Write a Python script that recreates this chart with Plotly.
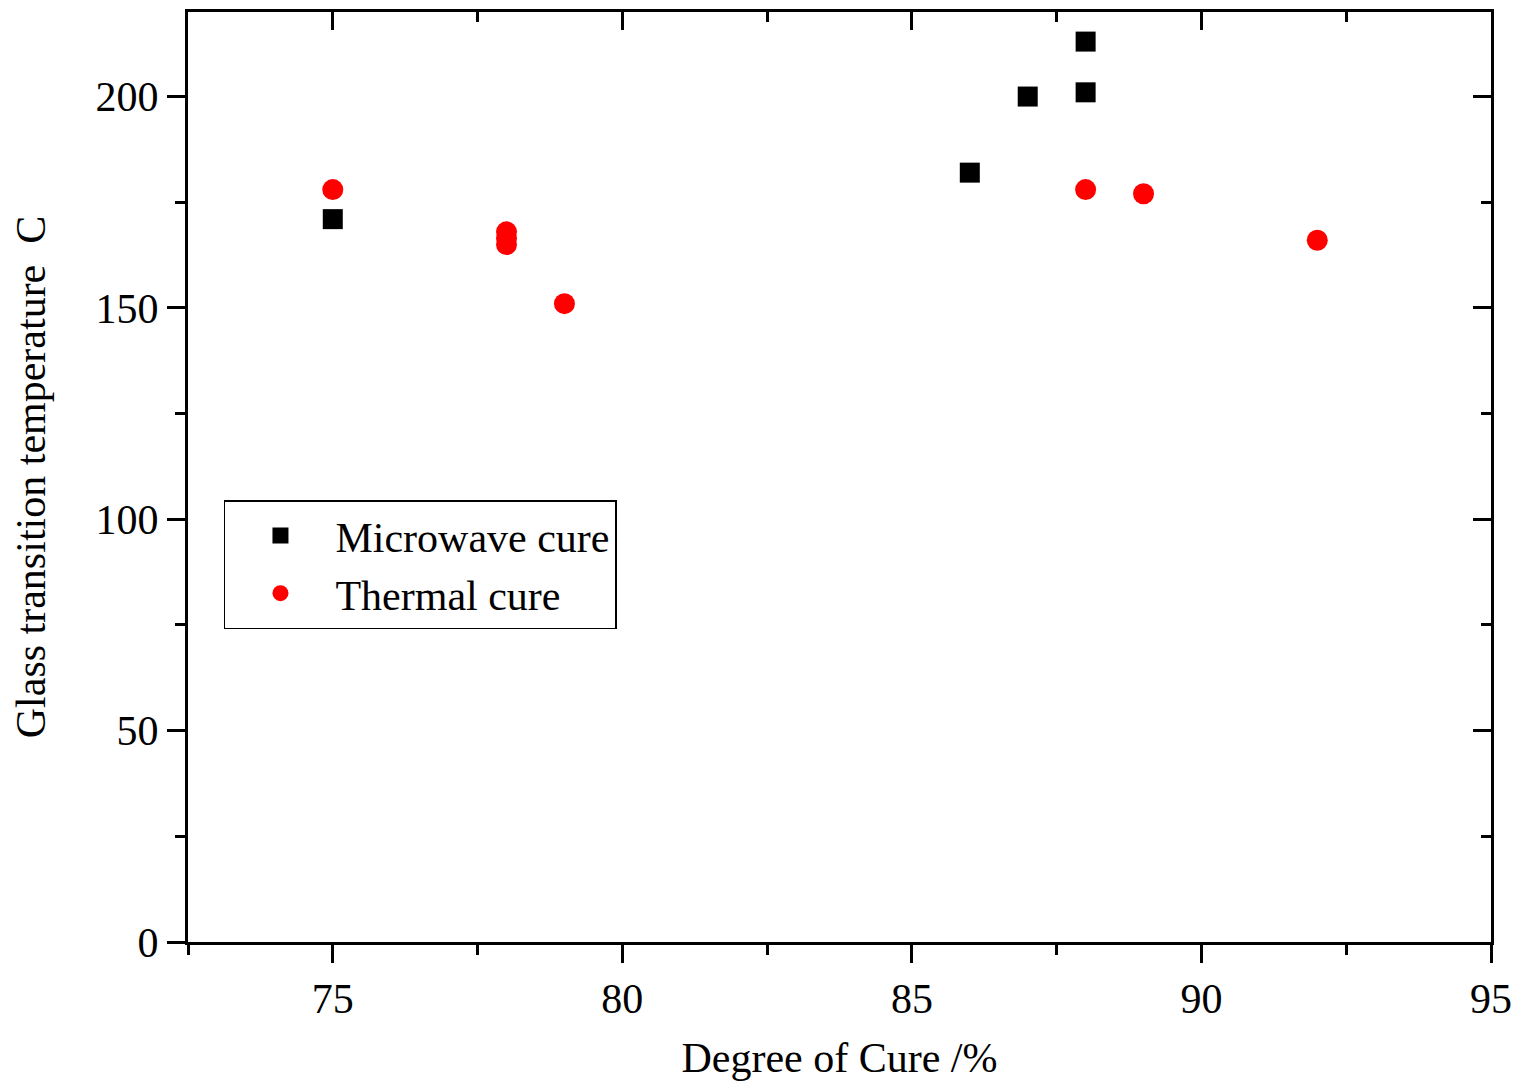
import plotly.graph_objects as go

micro_x = [75, 86, 87, 88, 88]
micro_y = [171, 182, 200, 213, 201]
therm_x = [75, 78, 78, 78, 79, 88, 89, 92]
therm_y = [178, 168, 166.5, 165, 151, 178, 177, 166]

x_ticks = [75, 80, 85, 90, 95]
x_minor = [72.5, 77.5, 82.5, 87.5, 92.5]
y_ticks = [0, 50, 100, 150, 200]
y_minor = [25, 75, 125, 175]

FONT = "Liberation Serif"
FS = 42

fig = go.Figure()
fig.add_trace(go.Scatter(x=micro_x, y=micro_y, mode="markers", name="Microwave cure",
                         marker=dict(symbol="square", size=20, color="black")))
fig.add_trace(go.Scatter(x=therm_x, y=therm_y, mode="markers", name="Thermal cure",
                         marker=dict(symbol="circle", size=21, color="red")))
# invisible trace to make the mirrored top/right axes render
fig.add_trace(go.Scatter(x=micro_x, y=micro_y, xaxis="x2", yaxis="y2", mode="markers",
                         marker=dict(opacity=0), showlegend=False, hoverinfo="skip"))

axis_common = dict(showgrid=False, zeroline=False, showline=True, linecolor="black", linewidth=3,
                   tickcolor="black", tickwidth=3, ticklen=18,
                   tickfont=dict(family=FONT, size=FS, color="black"))

fig.update_layout(
    width=1524, height=1089,
    paper_bgcolor="white", plot_bgcolor="white",
    margin=dict(l=180, r=41, t=4, b=155),
    font=dict(family=FONT, color="black"),
    showlegend=True,
    legend=dict(x=0.0276, y=0.475, xanchor="left", yanchor="top",
                bordercolor="black", borderwidth=1.5, bgcolor="white",
                font=dict(family=FONT, size=FS), itemsizing="trace", itemwidth=100,
                tracegroupgap=0),
    xaxis=dict(range=[72.5, 95], tickvals=x_ticks, ticks="outside",
               title=dict(text="Degree of Cure /%", font=dict(family=FONT, size=FS), standoff=22),
               minor=dict(tickvals=x_minor, ticks="outside", ticklen=10,
                          tickwidth=3, tickcolor="black"),
               **axis_common),
    yaxis=dict(range=[0, 220], tickvals=y_ticks, ticks="outside",
               title=dict(text="Glass transition temperature\u00a0\u00a0C", font=dict(family=FONT, size=FS), standoff=40),
               minor=dict(tickvals=y_minor, ticks="outside", ticklen=10,
                          tickwidth=3, tickcolor="black"),
               **axis_common),
    xaxis2=dict(overlaying="x", side="top", range=[72.5, 95], showgrid=False, zeroline=False,
                showline=True, linecolor="black", linewidth=3, ticks="inside", tickvals=x_ticks,
                ticklen=18, tickwidth=3, tickcolor="black", showticklabels=False,
                minor=dict(tickvals=x_minor, ticks="inside", ticklen=10,
                           tickwidth=3, tickcolor="black")),
    yaxis2=dict(overlaying="y", side="right", range=[0, 220], showgrid=False, zeroline=False,
                showline=True, linecolor="black", linewidth=3, ticks="inside", tickvals=y_ticks,
                ticklen=18, tickwidth=3, tickcolor="black", showticklabels=False,
                minor=dict(tickvals=y_minor, ticks="inside", ticklen=10,
                           tickwidth=3, tickcolor="black")),
)

fig.write_html("out.html")
